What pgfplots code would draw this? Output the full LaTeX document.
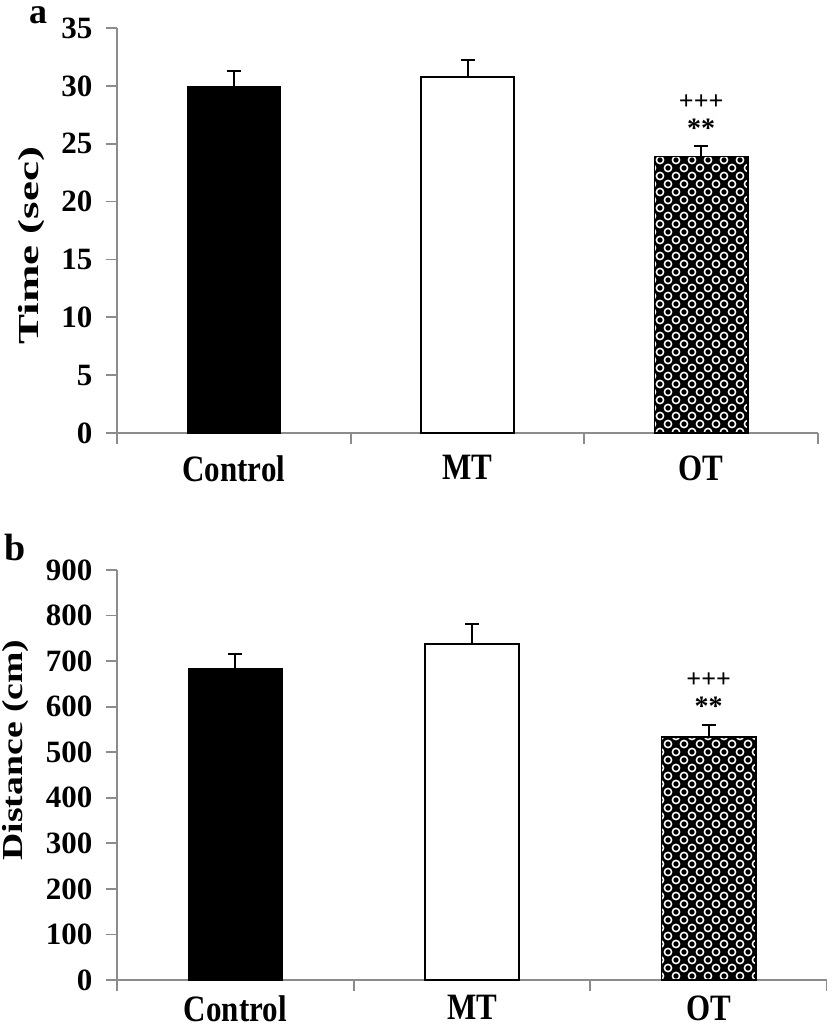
\documentclass[border=0pt]{standalone}
\usepackage{fontspec}
\setmainfont{Liberation Serif}
\usepackage{graphicx}
\usepackage{pgfplots}
\pgfplotsset{compat=1.18}
\usetikzlibrary{patterns}
\definecolor{axgray}{HTML}{8C8C8C}
\pgfdeclarepatternformonly{rings}{\pgfqpoint{-3pt}{-3pt}}{\pgfqpoint{19pt}{19pt}}{\pgfqpoint{16pt}{16pt}}{%
  \pgfsetlinewidth{1.5pt}%
  \pgfpathcircle{\pgfqpoint{4pt}{4pt}}{3.6pt}%
  \pgfpathcircle{\pgfqpoint{12pt}{12pt}}{3.6pt}%
  \pgfusepath{stroke}%
}
\pgfplotsset{
  panel/.style={
    scale only axis, clip=false,
    xmin=-0.5, xmax=2.5, ymin=0,
    axis x line*=bottom, axis y line*=left,
    axis line style={draw=axgray, line width=1.8pt},
    tick align=outside, ytick pos=left, xtick pos=bottom,
    major tick length=11pt,
    tick style={draw=axgray, line width=1.8pt},
    xtick={-0.5,0.5,1.5,2.5}, xticklabels={},
    extra x ticks={0,1,2},
    extra x tick labels={\scalebox{1}[1.2]{Control},\scalebox{1}[1.2]{MT},\scalebox{1}[1.2]{OT}},
    extra x tick style={major tick length=0pt, tick style={draw=none},
      xticklabel style={font=\fontsize{31}{33}\selectfont\bfseries, yshift=\labshift}},
    yticklabel style={font=\fontsize{31}{33}\selectfont\bfseries, /pgf/number format/assume math mode=true, xshift=-10pt},
    ylabel style={font=\fontsize{29}{31}\selectfont\bfseries},
    ylabel shift=10pt,
  },
  errs/.style={error bars/.cd, y dir=plus, y explicit,
    error mark=|,
    error bar style={black, line width=2pt},
    error mark options={black, line width=2pt, mark size=7pt}},
}
\newcommand\labshift{-19pt}
\begin{document}
\begin{tikzpicture}
\path[use as bounding box] (0pt,0pt) rectangle (827pt,-1028pt);
% ---- panel a ----
\begin{axis}[panel, at={(117pt,-433pt)}, anchor=south west,
  width=701pt, height=405pt, ymax=35, ytick={0,5,...,35},
  ylabel={\scalebox{1.55}[1]{Time (sec)}},
  ylabel style={at={(ticklabel cs:0.463)}}]
\addplot[ybar, bar shift=0pt, bar width=0.4, draw=black, fill=black, errs]
  coordinates {(0,30.0) +- (0,1.3)};
\addplot[ybar, bar shift=0pt, bar width=0.4, draw=black, line width=2pt, fill=white, errs]
  coordinates {(1,30.8) +- (0,1.4)};
\addplot[ybar, bar shift=0pt, bar width=0.4, draw=black, line width=1.5pt, fill=black,
  postaction={pattern=rings, pattern color=white}, errs]
  coordinates {(2,23.9) +- (0,0.9)};
\node[font=\fontsize{26}{28}\selectfont\bfseries] at (axis cs:2,28.6) {+++};
\node[font=\fontsize{28}{30}\selectfont\bfseries] at (axis cs:2,26.3) {**};
\end{axis}
\node[font=\fontsize{36}{38}\selectfont\bfseries, anchor=base, inner sep=0pt, text height=16pt, text depth=0pt] at (38pt,-23pt) {a};
% ---- panel b ----
\renewcommand\labshift{-12pt}
\begin{axis}[panel, at={(117pt,-980pt)}, anchor=south west,
  width=710pt, height=410pt, ymax=900, ytick={0,100,...,900},
  ylabel={\scalebox{1.3}[1]{Distance (cm)}},
  ylabel style={at={(ticklabel cs:0.561)}}]
\addplot[ybar, bar shift=0pt, bar width=0.4, draw=black, fill=black, errs]
  coordinates {(0,685) +- (0,31)};
\addplot[ybar, bar shift=0pt, bar width=0.4, draw=black, line width=2pt, fill=white, errs]
  coordinates {(1,738) +- (0,44)};
\addplot[ybar, bar shift=0pt, bar width=0.4, draw=black, line width=1.5pt, fill=black,
  postaction={pattern=rings, pattern color=white}, errs]
  coordinates {(2,533) +- (0,27)};
\node[font=\fontsize{26}{28}\selectfont\bfseries] at (axis cs:2,659) {+++};
\node[font=\fontsize{28}{30}\selectfont\bfseries] at (axis cs:2,602) {**};
\end{axis}
\node[font=\fontsize{38}{40}\selectfont\bfseries, anchor=base, inner sep=0pt] at (15pt,-560pt) {b};
\end{tikzpicture}
\end{document}
